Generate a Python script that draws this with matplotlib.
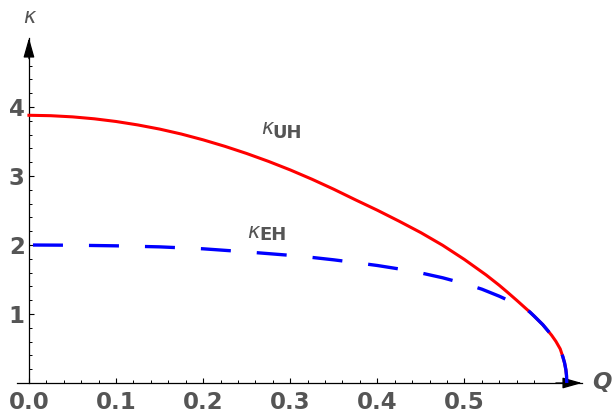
import matplotlib
matplotlib.use('Agg')
from matplotlib import pyplot as plt
from matplotlib.ticker import FixedLocator

# values
q_uh = [0.0, 0.025, 0.05, 0.075, 0.10, 0.125, 0.15, 0.175, 0.20, 0.225,
        0.25, 0.275, 0.30, 0.325, 0.35, 0.375, 0.40, 0.425, 0.45, 0.475,
        0.50, 0.525, 0.54, 0.55, 0.56, 0.57, 0.575, 0.58, 0.59, 0.60,
        0.605, 0.61, 0.613, 0.615, 0.6165, 0.6172, 0.6175]
kappa_uh = [3.880, 3.874, 3.857, 3.829, 3.790, 3.740, 3.680, 3.608, 3.524, 3.430,
            3.326, 3.212, 3.088, 2.953, 2.808, 2.654, 2.504, 2.345, 2.179, 1.996,
            1.790, 1.565, 1.416, 1.309, 1.199, 1.086, 1.030, 0.970, 0.845, 0.694,
            0.604, 0.494, 0.380, 0.290, 0.190, 0.110, 0.0]

q_eh = [0.0, 0.05, 0.10, 0.15, 0.20, 0.25, 0.30, 0.325, 0.35, 0.375,
        0.40, 0.425, 0.45, 0.475, 0.50, 0.52, 0.54, 0.55, 0.56, 0.57,
        0.575, 0.58, 0.59, 0.60, 0.605, 0.61, 0.613, 0.615, 0.6165, 0.6172,
        0.6175]
kappa_eh = [2.000, 1.997, 1.988, 1.973, 1.945, 1.900, 1.850, 1.820, 1.785, 1.745,
            1.703, 1.653, 1.595, 1.525, 1.440, 1.360, 1.258, 1.200, 1.140, 1.075,
            1.030, 0.970, 0.845, 0.694, 0.604, 0.494, 0.380, 0.290, 0.190, 0.110,
            0.0]

x_major = [0.0, 0.1, 0.2, 0.3, 0.4, 0.5]
x_labels = ['0.0', '0.1', '0.2', '0.3', '0.4', '0.5']
y_major = [1, 2, 3, 4]
y_labels = ['1', '2', '3', '4']

gray = '#555555'
xmin, xmax = -0.0135, 0.635
ymin, ymax = 0.0, 5.0

fig = plt.figure(figsize=(6.14, 4.18), dpi=100)
ax = fig.add_axes([17.2 / 614, 35 / 418, 564.8 / 614, 345 / 418])
ax.set_xlim(xmin, xmax)
ax.set_ylim(ymin, ymax)

for s in ['top', 'right']:
    ax.spines[s].set_visible(False)
ax.spines['left'].set_position(('data', 0))
for s in ['left', 'bottom']:
    ax.spines[s].set_linewidth(0.9)
    ax.spines[s].set_color('black')

ax.plot(q_uh, kappa_uh, color='#ff0000', lw=2.2, clip_on=False, zorder=3)
ax.plot(q_eh, kappa_eh, color='#0000ff', lw=2.4, clip_on=False, zorder=4,
        linestyle=(15.6, (9.0, 7.8)), solid_capstyle='butt', dash_capstyle='butt')

# ticks
ax.xaxis.set_major_locator(FixedLocator(x_major))
ax.set_xticklabels(x_labels)
ax.yaxis.set_major_locator(FixedLocator(y_major))
ax.set_yticklabels(y_labels)
x_minor = [round(0.02 * i, 2) for i in range(1, 30) if i % 5 != 0]
y_minor = [round(0.2 * i, 1) for i in range(1, 25) if i % 5 != 0]
ax.xaxis.set_minor_locator(FixedLocator(x_minor))
ax.yaxis.set_minor_locator(FixedLocator(y_minor))

ax.tick_params(which='major', direction='in', length=3.5, width=0.8, color='black')
ax.tick_params(which='minor', direction='in', length=2.2, width=0.7, color='black')
ax.tick_params(axis='x', which='major', pad=6)
ax.tick_params(axis='y', which='major', pad=3)
for lab in ax.get_xticklabels() + ax.get_yticklabels():
    lab.set_fontfamily('DejaVu Sans')
    lab.set_fontweight('bold')
    lab.set_fontsize(16.5)
    lab.set_color(gray)

# arrow heads on the axes
arrow = dict(arrowstyle='-|>,head_length=1.2,head_width=0.34', color='black',
             lw=0.9, shrinkA=0, shrinkB=0)
ax.annotate('', xy=(xmax, 0), xytext=(xmax - 0.03, 0), arrowprops=arrow,
            annotation_clip=False)
ax.annotate('', xy=(0, ymax), xytext=(0, ymax - 0.3), arrowprops=arrow,
            annotation_clip=False)

# axis labels
ax.text(0.0, 5.30, 'κ', ha='center', va='center', fontsize=15, style='italic',
        color=gray, clip_on=False)
ax.text(0.658, 0.0, 'Q', ha='center', va='center', fontsize=16.5,
        style='italic', fontweight='bold', color=gray, clip_on=False)

# curve labels
ax.text(0.2806, 3.70, 'κ', ha='right', va='center', fontsize=15, style='italic',
        color=gray)
ax.text(0.2800, 3.616, 'UH', ha='left', va='center', fontsize=13,
        fontweight='bold', color=gray)
ax.text(0.2645, 2.19, 'κ', ha='right', va='center', fontsize=15, style='italic',
        color=gray)
ax.text(0.2640, 2.145, 'EH', ha='left', va='center', fontsize=13,
        fontweight='bold', color=gray)

fig.savefig('out.png', dpi=100)
